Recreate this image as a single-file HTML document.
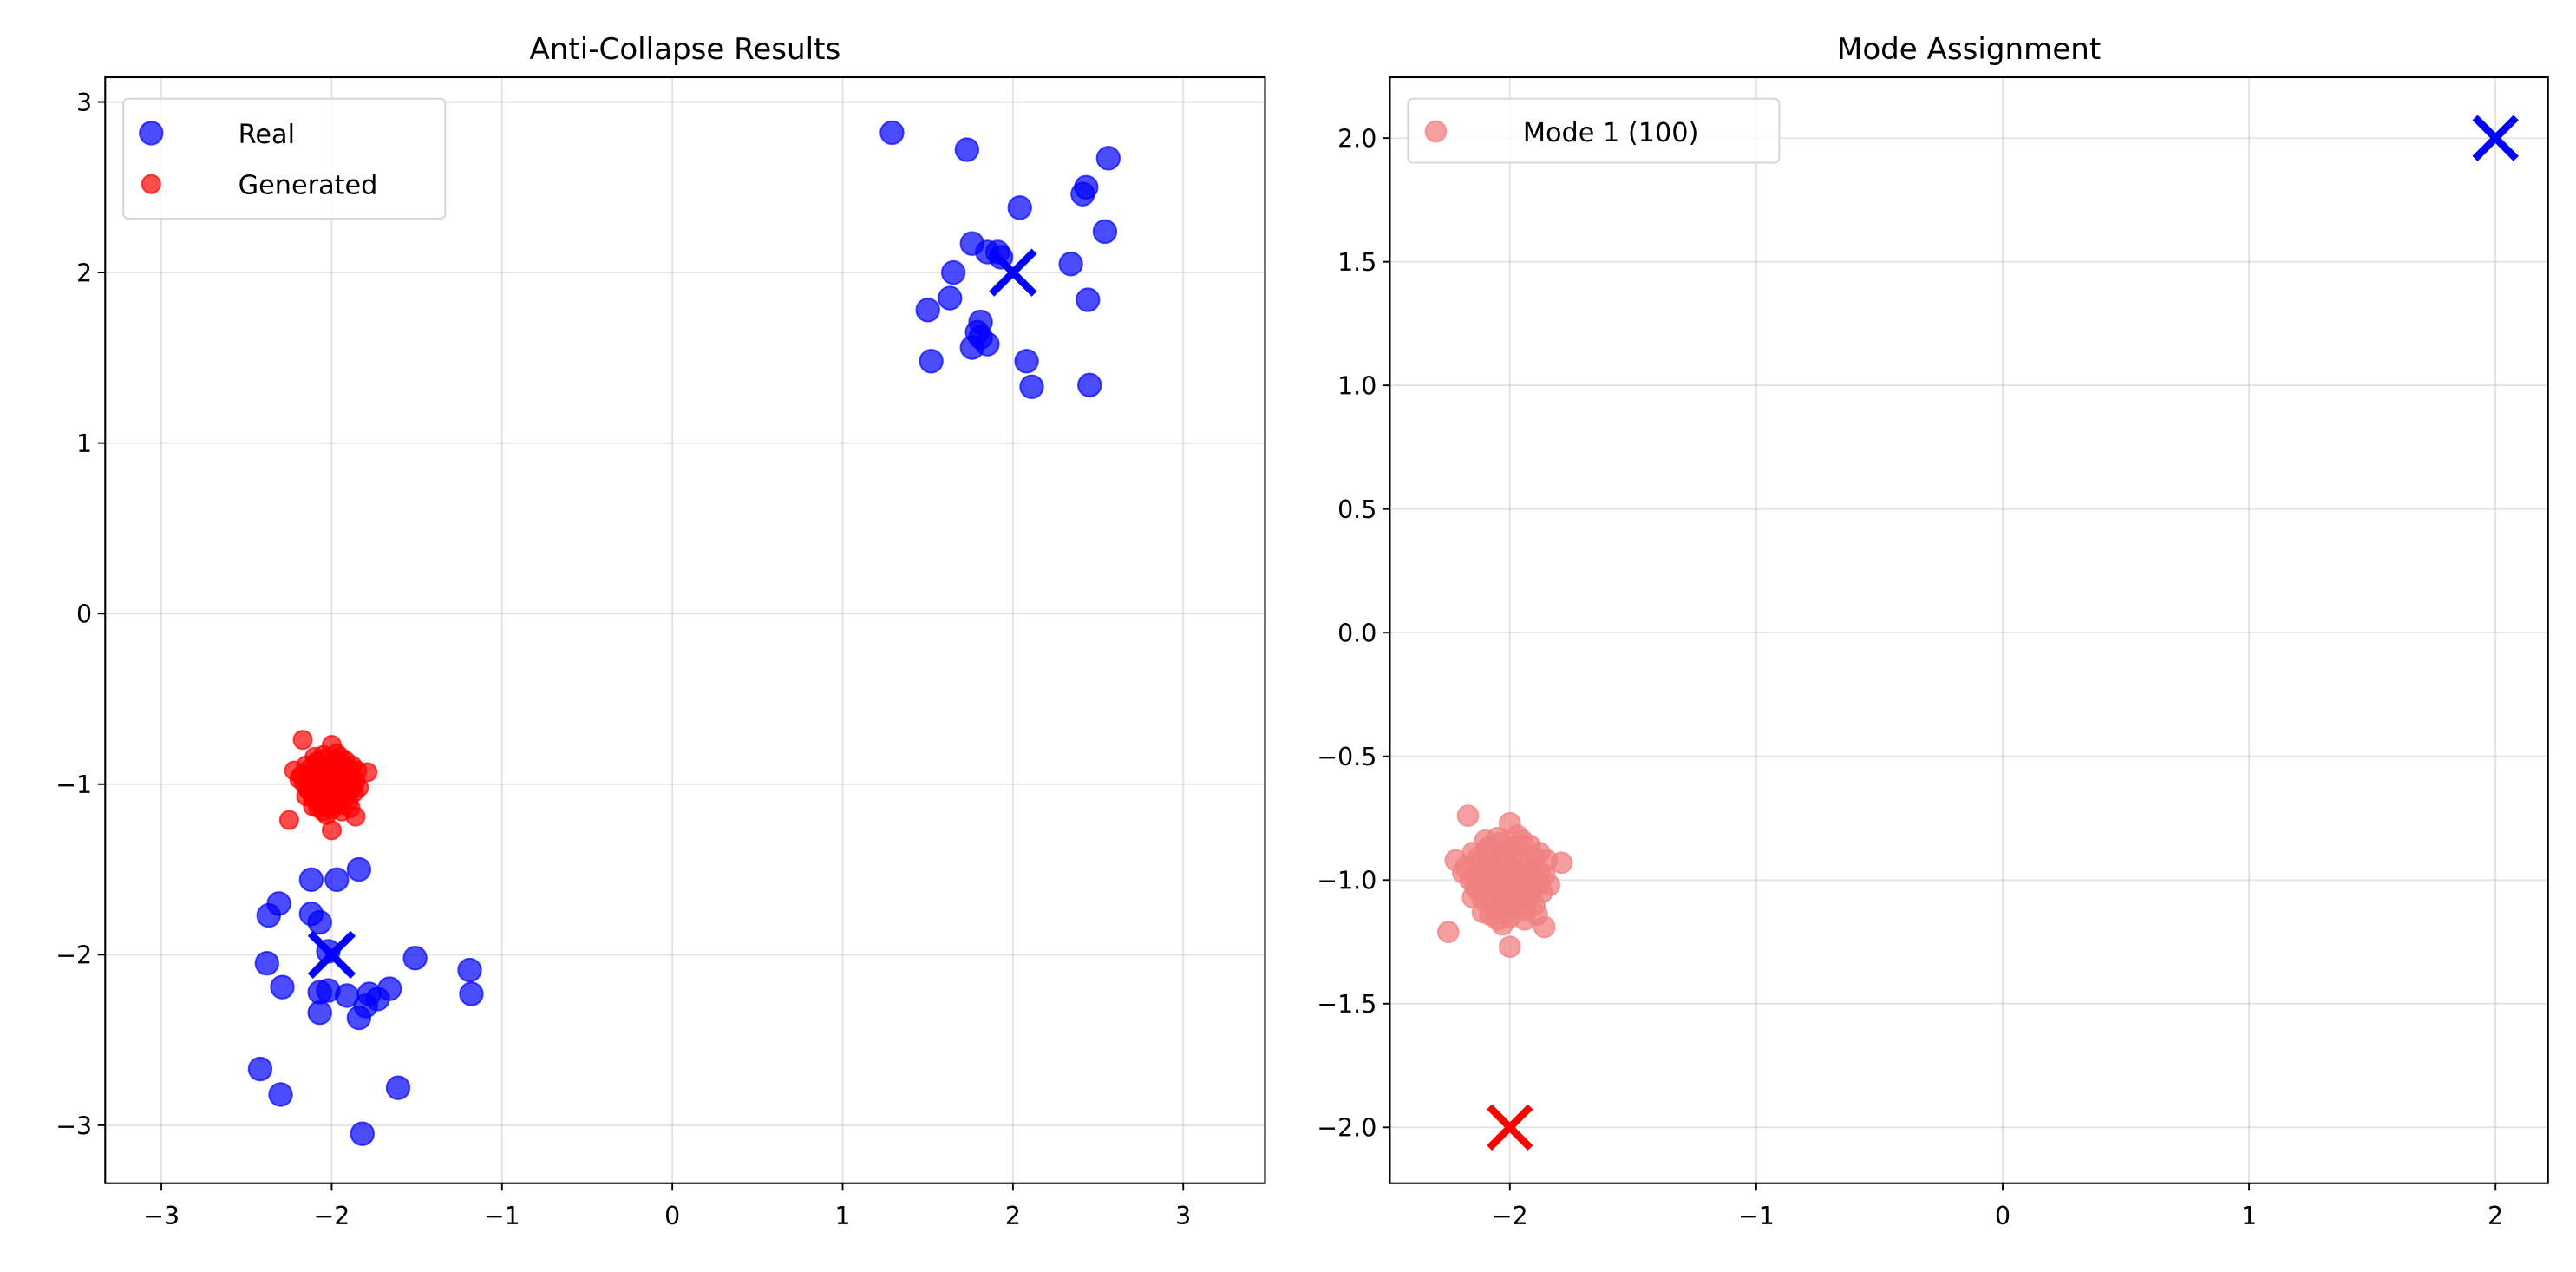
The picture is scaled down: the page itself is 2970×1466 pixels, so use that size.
<!DOCTYPE html>
<html><head><meta charset="utf-8"><style>
html,body{margin:0;padding:0;background:#fff;}
svg{display:block;font-family:"DejaVu Sans","Liberation Sans",sans-serif;}
</style></head><body>
<svg id="fig" width="2970" height="1466" viewBox="0 0 1568 774" xmlns="http://www.w3.org/2000/svg">
<rect width="1568" height="774" fill="#fff"/>
<g id="p1"></g>
<g id="p2"></g>
</svg>
<script>
const realX = [1.29,1.73,2.56,2.43,2.41,2.04,2.54,1.76,1.85,1.91,1.93,2.34,1.65,1.63,2.44,1.50,1.81,1.79,1.81,1.76,1.85,1.52,2.08,2.11,2.45,
 -2.12,-1.97,-1.84,-2.31,-2.37,-2.12,-2.07,-2.02,-2.38,-1.51,-1.19,-1.18,-2.29,-2.07,-2.02,-1.91,-1.78,-1.66,-1.73,-2.07,-1.84,-1.80,-2.42,-2.30,-1.61,-1.82];
const realY = [2.82,2.72,2.67,2.50,2.46,2.38,2.24,2.17,2.12,2.12,2.09,2.05,2.00,1.85,1.84,1.78,1.71,1.65,1.62,1.56,1.58,1.48,1.48,1.33,1.34,
 -1.56,-1.56,-1.50,-1.70,-1.77,-1.76,-1.81,-1.98,-2.05,-2.02,-2.09,-2.23,-2.19,-2.22,-2.21,-2.24,-2.23,-2.20,-2.26,-2.34,-2.37,-2.30,-2.67,-2.82,-2.78,-3.05];
const genX = [-2.17,-2.00,-2.25,-2.00,-1.79,-1.86,-2.13,-2.22,-2.10,-2.05,-1.97,-1.92,-1.88,-1.85,-2.15,-2.18,-2.12,-2.08,-2.02,-1.96,
 -1.90,-1.87,-1.93,-1.98,-2.04,-2.09,-2.01,-1.95,-1.91,-2.06,-2.00,-1.94,-2.11,-2.14,-2.03,-1.89,-2.07,-1.99,-1.97,-2.01,
 -2.19,-2.16,-2.13,-2.10,-2.07,-2.04,-2.01,-1.98,-1.95,-1.92,-1.89,-1.86,-1.84,-2.08,-2.05,-2.02,-1.99,-1.96,-1.93,-1.90,
 -2.12,-2.09,-2.06,-2.03,-2.00,-1.97,-1.94,-1.91,-1.88,-2.15,-2.11,-2.08,-2.05,-2.02,-1.99,-1.96,-1.93,-2.06,-2.03,-2.00,
 -1.97,-2.09,-2.04,-1.98,-1.95,-2.10,-2.03,-1.92,-1.88,-2.14,-2.07,-2.01,-1.94,-2.05,-1.99,-2.02,-1.96,-2.08,-1.91,-2.00];
const genY = [-0.74,-0.77,-1.21,-1.27,-0.93,-1.19,-0.91,-0.92,-0.84,-0.83,-0.82,-0.86,-0.89,-0.92,-0.89,-0.95,-0.98,-1.02,-1.05,-1.08,
 -1.10,-1.05,-1.01,-0.97,-0.94,-0.90,-0.88,-0.92,-0.96,-1.12,-1.15,-1.16,-1.08,-1.03,-1.18,-1.14,-0.96,-1.00,-1.03,-0.99,
 -0.97,-1.00,-1.04,-1.06,-1.09,-1.11,-1.13,-1.10,-1.07,-1.04,-1.01,-0.98,-1.02,-0.87,-0.90,-0.93,-0.95,-0.99,-0.94,-0.91,
 -0.93,-0.96,-0.99,-1.02,-1.04,-1.06,-1.08,-1.03,-0.97,-1.07,-1.13,-1.14,-1.16,-1.12,-1.09,-1.11,-1.07,-1.05,-1.08,-1.02,
 -0.86,-0.87,-0.85,-0.88,-0.84,-1.00,-0.92,-0.99,-1.02,-0.98,-1.01,-0.95,-1.12,-1.00,-1.06,-0.97,-1.03,-0.93,-1.05,-1.09];
const modeCentersX = [2, -2];
const modeCentersY = [2, -2];
const ticks1 = [-3,-2,-1,0,1,2,3];
const xTicks2 = [-2,-1,0,1,2];
const yTicks2 = [-2.0,-1.5,-1.0,-0.5,0.0,0.5,1.0,1.5,2.0];

const NS="http://www.w3.org/2000/svg";
function mk(parent, tag, attrs, text){const e=document.createElementNS(NS,tag);for(const k in attrs)e.setAttribute(k,attrs[k]);if(text!==undefined)e.textContent=text;parent.appendChild(e);return e;}
function fmt(v,d){const s=v.toFixed(d);return v<0?'\u2212'+s.slice(1):s;}

function panel(g, box, xr, yr, xt, yt, dec, title){
  const sx=v=>box.x0+(v-xr[0])/(xr[1]-xr[0])*(box.x1-box.x0);
  const sy=v=>box.y1-(v-yr[0])/(yr[1]-yr[0])*(box.y1-box.y0);
  xt.forEach(t=>{
    const l=mk(g,'line',{x1:sx(t),x2:sx(t),y1:box.y0,y2:box.y1,stroke:'#b0b0b0','stroke-opacity':0.35,'stroke-width':1});
    
    
    const k=mk(g,'line',{x1:sx(t),x2:sx(t),y1:box.y1,y2:box.y1+4.5,stroke:'#000','stroke-width':1});
    
    
    const tx=mk(g,'text',{x:sx(t),y:box.y1+25,'font-size':15,'text-anchor':'middle',fill:'#000'},fmt(t,dec[0]));
    
    
  });
  yt.forEach(t=>{
    const l=mk(g,'line',{x1:box.x0,x2:box.x1,y1:sy(t),y2:sy(t),stroke:'#b0b0b0','stroke-opacity':0.35,'stroke-width':1});
    
    
    const k=mk(g,'line',{x1:box.x0-4.5,x2:box.x0,y1:sy(t),y2:sy(t),stroke:'#000','stroke-width':1});
    
    
    const tx=mk(g,'text',{x:box.x0-8,y:sy(t)+5.5,'font-size':15,'text-anchor':'end',fill:'#000'},fmt(t,dec[1]));
    
    
  });
  const tt=mk(g,'text',{x:(box.x0+box.x1)/2,y:box.y0-11,'font-size':18,'text-anchor':'middle',fill:'#000'},title);
  
  
  return {sx,sy};
}
function frame(g,box){
  const f=mk(g,'rect',{x:box.x0,y:box.y0,width:box.x1-box.x0,height:box.y1-box.y0,fill:'none',stroke:'#000','stroke-width':1.1});
  
  
}
function cross(g,cx,cy,h,w,color){
  const c=mk(g,'path',{d:`M${cx-h},${cy-h}L${cx+h},${cy+h}M${cx-h},${cy+h}L${cx+h},${cy-h}`,stroke:color,'stroke-width':w,fill:'none'});
  
  
}

// Panel 1
const g1=document.getElementById('p1');
const b1={x0:64,x1:770,y0:47,y1:720};
const a1=panel(g1,b1,[-3.33,3.48],[-3.34,3.145],ticks1,ticks1,[0,0],'Anti-Collapse Results');
realX.forEach((x,i)=>{
  const c=mk(g1,'circle',{cx:a1.sx(x),cy:a1.sy(realY[i]),r:7,fill:'rgba(0,0,255,0.7)',stroke:'rgba(0,0,255,0.7)','stroke-width':1});
  
  
});
genX.forEach((x,i)=>{
  const c=mk(g1,'circle',{cx:a1.sx(x),cy:a1.sy(genY[i]),r:5.6,fill:'rgba(255,0,0,0.7)',stroke:'rgba(255,0,0,0.7)','stroke-width':1});
  
  
});
modeCentersX.forEach((x,i)=>cross(g1,a1.sx(x),a1.sy(modeCentersY[i]),13,4.5,'#0000ff'));
frame(g1,b1);
const lg1=mk(g1,'g',{});


mk(lg1,'rect',{x:75,y:60,width:196,height:73,rx:3,fill:'#fff','fill-opacity':0.8,stroke:'#d5d5d5','stroke-width':1});
mk(lg1,'circle',{cx:92,cy:81,r:7,fill:'rgba(0,0,255,0.7)',stroke:'rgba(0,0,255,0.7)'});
mk(lg1,'text',{x:145,y:87,'font-size':16,fill:'#000'},'Real');
mk(lg1,'circle',{cx:92,cy:112,r:5.6,fill:'rgba(255,0,0,0.7)',stroke:'rgba(255,0,0,0.7)'});
mk(lg1,'text',{x:145,y:118,'font-size':16,fill:'#000'},'Generated');

// Panel 2
const g2=document.getElementById('p2');
const b2={x0:846,x1:1551,y0:47,y1:720};
const a2=panel(g2,b2,[-2.487,2.213],[-2.226,2.246],xTicks2,yTicks2,[0,1],'Mode Assignment');
genX.forEach((x,i)=>{
  const c=mk(g2,'circle',{cx:a2.sx(x),cy:a2.sy(genY[i]),r:6.3,fill:'rgba(240,128,128,0.75)',stroke:'rgba(240,128,128,0.75)','stroke-width':1});
  
  
});
cross(g2,a2.sx(modeCentersX[0]),a2.sy(modeCentersY[0]),12.5,4.5,'#0000ff');
cross(g2,a2.sx(modeCentersX[1]),a2.sy(modeCentersY[1]),12.5,4.5,'#ff0000');
frame(g2,b2);
const lg2=mk(g2,'g',{});


mk(lg2,'rect',{x:857,y:60,width:226,height:39,rx:3,fill:'#fff','fill-opacity':0.8,stroke:'#d5d5d5','stroke-width':1});
mk(lg2,'circle',{cx:874,cy:80,r:6.3,fill:'rgba(240,128,128,0.75)',stroke:'rgba(240,128,128,0.75)'});
mk(lg2,'text',{x:927,y:86,'font-size':16,fill:'#000'},'Mode 1 (100)');
</script>
</body></html>
